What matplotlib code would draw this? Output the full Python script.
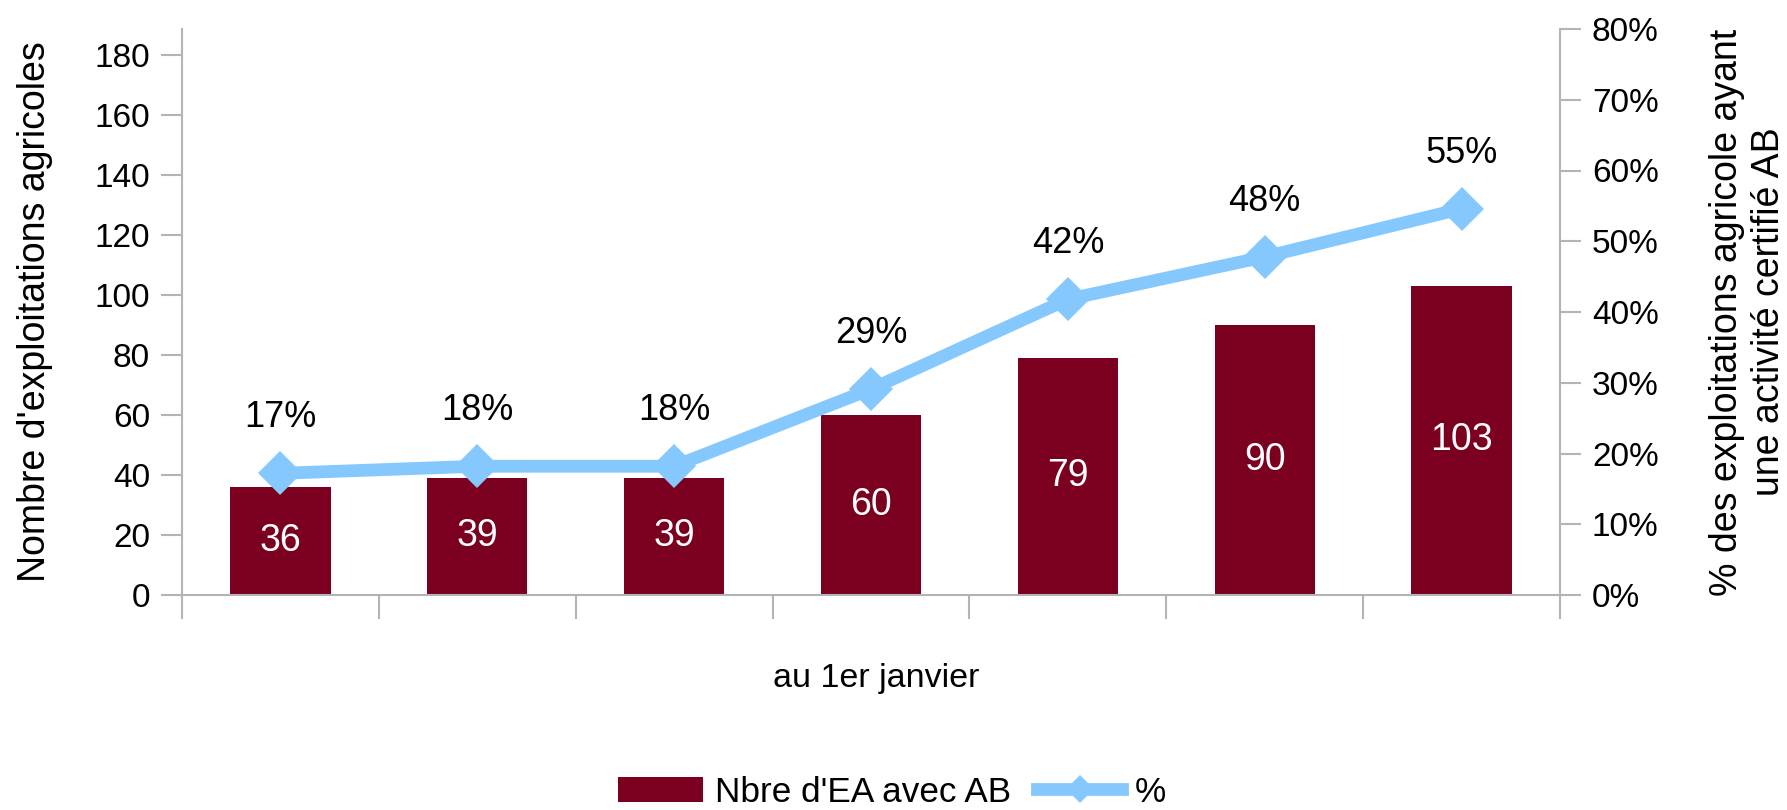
import matplotlib
matplotlib.use("Agg")
import matplotlib.pyplot as plt
from matplotlib.patches import Patch
from matplotlib.lines import Line2D
import numpy as np

plt.rcParams['font.family'] = ['Liberation Sans', 'DejaVu Sans']

# Data
categories = ["", "", "", "", "", "", ""]
counts = [36, 39, 39, 60, 79, 90, 103]
shares = [0.172, 0.182, 0.182, 0.291, 0.418, 0.478, 0.546]
left_ticks = [0, 20, 40, 60, 80, 100, 120, 140, 160, 180]
right_ticks = [0.0, 0.1, 0.2, 0.3, 0.4, 0.5, 0.6, 0.7, 0.8]

bar_color = "#7b0020"
line_color = "#85c8fd"
grid_gray = "#b4b4b4"

W, H = 1787, 810
L, R, T, B = 182, 1560, 29, 595
fig = plt.figure(figsize=(W/100, H/100), dpi=100)
ax = fig.add_axes([L/W, 1-B/H, (R-L)/W, (B-T)/H])
ax2 = ax.twinx()

x = np.arange(len(counts))
ax.bar(x, counts, width=0.51, color=bar_color, zorder=2)
for xi, v in zip(x, counts):
    ax.text(xi, v/2, str(v), ha='center', va='center', color='white', fontsize=27)

ax.set_xlim(-0.5, len(counts)-0.5)
ax.set_ylim(0, 188.5)
ax.set_yticks(left_ticks)
ax.set_xticks(np.arange(len(counts)+1) - 0.5)
ax.set_xticklabels([""]*(len(counts)+1))

ax2.plot(x, shares, color=line_color, lw=9.2, marker='D', markersize=22,
         markeredgewidth=0, solid_joinstyle='miter', zorder=3)
for xi, s in zip(x, shares):
    ax2.annotate(f"{round(s*100):d}%", (xi, s), xytext=(0, 40), textcoords='offset points',
                 ha='center', va='center', fontsize=26, color='black')
ax2.set_ylim(0, 0.8)
ax2.set_yticks(right_ticks)
ax2.set_yticklabels([f"{int(round(t*100))}%" for t in right_ticks])

for a in (ax, ax2):
    a.spines['top'].set_visible(False)
    for side in ('left', 'right', 'bottom'):
        a.spines[side].set_color(grid_gray)
        a.spines[side].set_linewidth(1.5)
    a.tick_params(axis='both', colors=grid_gray, length=15, width=1.5, labelsize=24,
                  labelcolor='black', pad=8)
ax.tick_params(axis='x', length=17)
ax2.spines['left'].set_visible(False)
ax2.spines['bottom'].set_visible(False)
ax.spines['right'].set_visible(False)

ax.set_ylabel("Nombre d'exploitations agricoles", fontsize=27)
ax.yaxis.label.set_va('center')
ax.yaxis.set_label_coords((35-L)/(R-L), 0.5)

ax2.set_ylabel("% des exploitations agricole ayant\nune activité certifié AB", fontsize=27,
               linespacing=1.22)
ax2.yaxis.label.set_va('center')
ax2.yaxis.set_label_coords((1748-L)/(R-L), 0.5)

ax.set_xlabel("au 1er janvier", fontsize=24.5)
ax.xaxis.label.set_va('center')
ax.xaxis.set_label_coords((876-L)/(R-L), (B-679)/(B-T))

handles = [Patch(facecolor=bar_color, edgecolor='none'),
           Line2D([0], [0], color=line_color, lw=9.2, marker='D', markersize=14, markeredgewidth=0)]
fig.legend(handles, ["Nbre d'EA avec AB", "%"], loc='center', bbox_to_anchor=(892/W, 1-792/H),
           ncol=2, frameon=False, fontsize=25.3, handlelength=2.42, handleheight=0.71,
           handletextpad=0.34, columnspacing=0.74, borderpad=0, borderaxespad=0)

fig.savefig("out.png", dpi=100)
